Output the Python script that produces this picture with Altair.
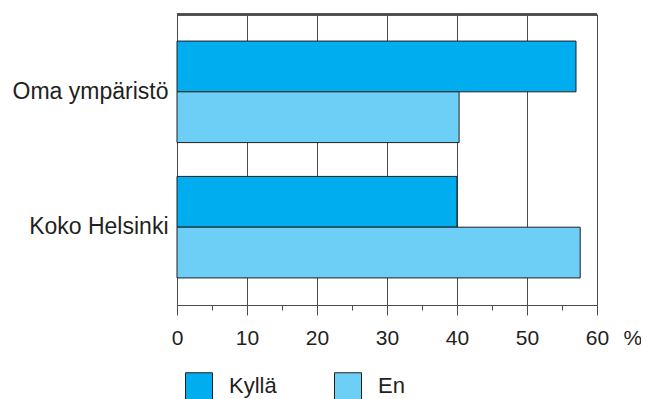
import altair as alt
import pandas as pd

categories = ["Oma ympäristö", "Koko Helsinki"]
series = ["Kyllä", "En"]
kylla = [57.0, 40.0]
en = [40.3, 57.6]

rows = []
for c, k, e in zip(categories, kylla, en):
    rows.append({"cat": c, "ser": "Kyllä", "val": k})
    rows.append({"cat": c, "ser": "En", "val": e})
df = pd.DataFrame(rows)

FONT = "Liberation Sans"
LINE = "#4a4a4a"

bars = alt.Chart(df).mark_bar(stroke="#231F20", strokeWidth=1).encode(
    x=alt.X(
        "val:Q",
        scale=alt.Scale(domain=[0, 60], nice=False),
        axis=alt.Axis(
            values=list(range(0, 61, 5)),
            labelExpr="datum.value % 10 === 0 ? datum.label : ''",
            tickSize={"condition": {"test": "datum.value % 10 === 0", "value": 10}, "value": 5},
            gridOpacity={"condition": {"test": "datum.value % 10 === 0", "value": 1}, "value": 0},
            grid=True,
            gridColor=LINE,
            gridWidth=1,
            domainColor=LINE,
            tickColor=LINE,
            labelFontSize=21,
            labelFont=FONT,
            labelColor="#231F20",
            labelPadding=12,
            labelFlush=False,
            title="%",
            titleFont=FONT,
            titleFontSize=21,
            titleFontWeight="normal",
            titleColor="#231F20",
            titleX=446,
            titleY=33,
            titleAlign="left",
            titleBaseline="middle",
        ),
    ),
    y=alt.Y(
        "cat:N",
        sort=categories,
        scale=alt.Scale(paddingInner=0.25, paddingOuter=0.2),
        axis=alt.Axis(
            title=None,
            ticks=False,
            domainColor=LINE,
            labelFontSize=23,
            labelFont=FONT,
            labelColor="#231F20",
            labelPadding=9,
            labelLimit=300,
        ),
    ),
    yOffset=alt.YOffset("ser:N", sort=series, scale=alt.Scale(paddingInner=0, paddingOuter=0)),
    color=alt.Color(
        "ser:N",
        sort=series,
        scale=alt.Scale(domain=series, range=["#00AEEF", "#6DCFF6"]),
        legend=alt.Legend(
            title=None,
            orient="none",
            direction="horizontal",
            legendX=8,
            legendY=358,
            symbolType="square",
            symbolSize=729,
            symbolStrokeColor="#231F20",
            symbolStrokeWidth=1,
            symbolOpacity=1,
            labelFontSize=22,
            labelFont=FONT,
            labelColor="#231F20",
            labelOffset=16,
            columnPadding=55,
            padding=0,
        ),
    ),
)

top_rule = alt.Chart(df).mark_rule(color=LINE, strokeWidth=2).encode(
    y=alt.value(0.5), x=alt.value(0), x2=alt.value(420)
)

chart = alt.layer(bars, top_rule).properties(
    width=420,
    height=291,
    padding={"left": 169, "top": 6, "right": 44, "bottom": 100},
    autosize=alt.AutoSizeParams(type="none"),
).configure_view(stroke=LINE, strokeWidth=1).configure(background="white")

chart.save("out.html", embed_options={"renderer": "svg", "actions": False})
